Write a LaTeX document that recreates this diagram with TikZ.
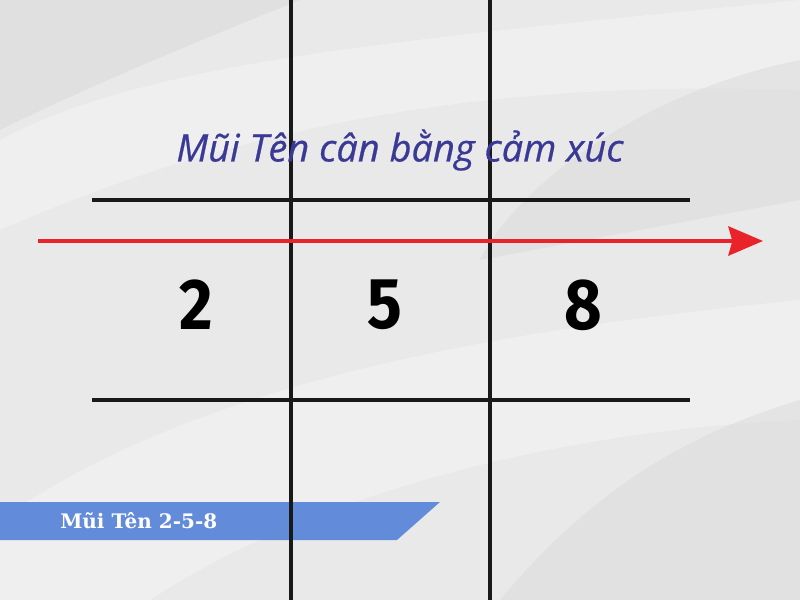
\documentclass[tikz,border=0pt]{standalone}
\usepackage{fontspec}
\setmainfont{Open Sans}
\newfontfamily\titlefont[FakeBold=0.6]{Open Sans}
\newfontfamily\digitfont{Fira Sans}
\newfontfamily\bannerfont{DejaVu Serif}
\usetikzlibrary{arrows.meta}
\definecolor{bgA}{HTML}{E9E9E9}
\definecolor{bgB}{HTML}{F1F1F1}
\definecolor{bgC}{HTML}{DADADA}
\definecolor{titleblue}{HTML}{3A3A96}
\definecolor{bannerblue}{HTML}{628BD9}
\definecolor{arrowred}{HTML}{E8242A}
\tikzset{
  gridline/.style={line width=2.5pt, black!90},
  redarrow/.style={line width=2.4pt, arrowred, -{Stealth[length=26pt,width=22pt,inset=3pt]}},
  digit/.style={font=\digitfont\bfseries\fontsize{54}{60}\selectfont, xscale=0.9, inner sep=0pt},
  titletext/.style={font=\titlefont\itshape\fontsize{28.5}{32}\selectfont, inner sep=0pt},
  bannertext/.style={font=\bannerfont\bfseries\fontsize{15}{17}\selectfont, text=white, inner sep=0pt, anchor=west}
}
\begin{document}
\begin{tikzpicture}[x=0.75pt,y=-0.75pt]
\useasboundingbox (0,0) rectangle (800,600);
% background
\fill[bgA] (0,0) rectangle (800,600);
\fill[bgC, opacity=0.6] (0,0) -- (300,0) .. controls (200,40) and (80,90) .. (0,130) -- cycle;
\fill[bgB, opacity=0.8] (0,140) .. controls (150,60) and (400,40) .. (800,0) -- (800,90) .. controls (500,80) and (250,120) .. (0,230) -- cycle;
\fill[bgC, opacity=0.5] (800,60) .. controls (650,90) and (520,180) .. (480,260) -- (800,200) -- cycle;
\fill[bgB, opacity=0.8] (0,520) .. controls (200,380) and (500,330) .. (800,300) -- (800,420) .. controls (550,430) and (300,500) .. (150,600) -- (0,600) -- cycle;
\fill[bgC, opacity=0.5] (500,600) .. controls (600,480) and (700,430) .. (800,400) -- (800,600) -- cycle;
% banner
\fill[bannerblue] (0,502) -- (440,502) -- (397,540) -- (0,540) -- cycle;
\node[bannertext] (banner) at (60,521) {Mũi Tên 2-5-8};
% grid
\coordinate (h1a) at (92,200); \coordinate (h1b) at (690,200);
\coordinate (h2a) at (92,400); \coordinate (h2b) at (690,400);
\coordinate (v1a) at (291,0); \coordinate (v1b) at (291,600);
\coordinate (v2a) at (490,0); \coordinate (v2b) at (490,600);
\draw[gridline] (h1a) -- (h1b);
\draw[gridline] (h2a) -- (h2b);
\draw[gridline] (v1a) -- (v1b);
\draw[gridline] (v2a) -- (v2b);
% red arrow
\coordinate (ra) at (38,241); \coordinate (rb) at (763,241);
\draw[redarrow] (ra) -- (rb);
% title
\node[titletext, text=titleblue] (title) at (400,150) {Mũi Tên cân bằng cảm xúc};
% digits
\node[digit] (d2) at (196,305) {2};
\node[digit] (d5) at (385,305) {5};
\node[digit] (d8) at (583,305) {8};
\end{tikzpicture}
\end{document}
